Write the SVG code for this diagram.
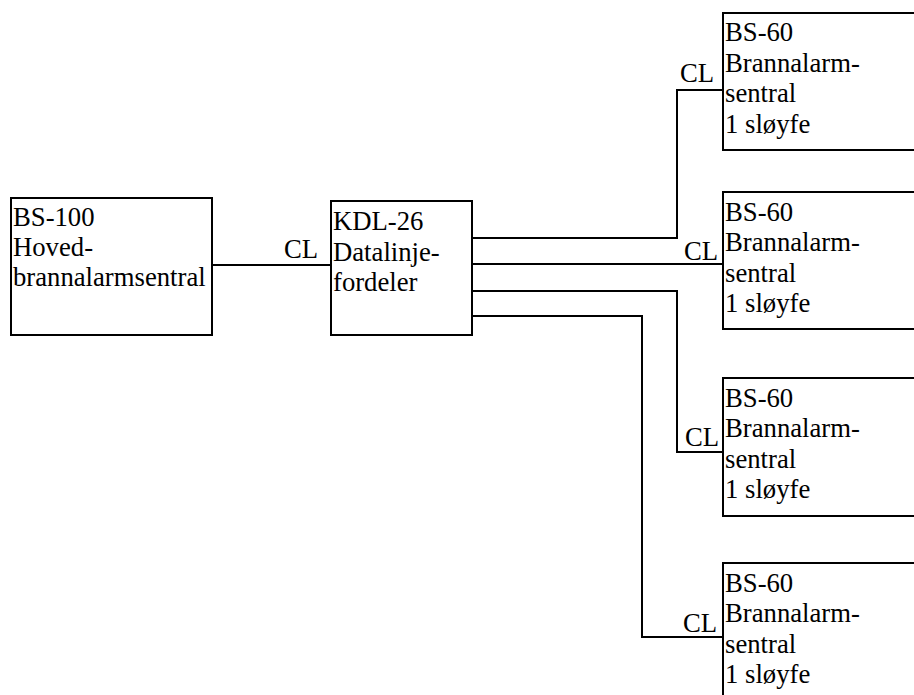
<svg xmlns="http://www.w3.org/2000/svg" width="914" height="695" viewBox="0 0 914 695">
<style>
rect{fill:#fff;stroke:#000;stroke-width:2}
path{fill:none;stroke:#000;stroke-width:2}
text{font-family:'Liberation Serif','Times New Roman',serif;font-size:26.7px;fill:#000}
.cl{text-anchor:end}
</style>
<rect x="0" y="0" width="914" height="695" style="stroke:none"/>
<g id="connectors">
<path d="M212 265H331"/>
<path d="M472 238H677V90H723"/>
<path d="M472 264H723"/>
<path d="M472 291H677V452H723"/>
<path d="M472 316H642V637H723"/>
<text class="cl" x="318" y="258">CL</text>
<text class="cl" x="714" y="82">CL</text>
<text class="cl" x="718" y="260">CL</text>
<text class="cl" x="719" y="446">CL</text>
<text class="cl" x="717" y="632">CL</text>
</g>
<g id="bs100">
<rect x="11" y="198" width="201" height="137"/>
<text x="13" y="226">BS-100</text>
<text x="13" y="256">Hoved-</text>
<text x="13" y="286">brannalarmsentral</text>
</g>
<g id="kdl26">
<rect x="331" y="201" width="141" height="134"/>
<text x="333" y="230">KDL-26</text>
<text x="333" y="261">Datalinje-</text>
<text x="333" y="291">fordeler</text>
</g>
<g id="bs60a">
<rect x="723" y="13" width="200" height="137"/>
<text x="725" y="41">BS-60</text>
<text x="725" y="72">Brannalarm-</text>
<text x="725" y="102">sentral</text>
<text x="725" y="133">1 sløyfe</text>
</g>
<g id="bs60b">
<rect x="723" y="192" width="200" height="137"/>
<text x="725" y="221">BS-60</text>
<text x="725" y="251">Brannalarm-</text>
<text x="725" y="282">sentral</text>
<text x="725" y="312">1 sløyfe</text>
</g>
<g id="bs60c">
<rect x="723" y="378" width="200" height="138"/>
<text x="725" y="407">BS-60</text>
<text x="725" y="437">Brannalarm-</text>
<text x="725" y="468">sentral</text>
<text x="725" y="498">1 sløyfe</text>
</g>
<g id="bs60d">
<rect x="723" y="563" width="200" height="150"/>
<text x="725" y="592">BS-60</text>
<text x="725" y="622">Brannalarm-</text>
<text x="725" y="653">sentral</text>
<text x="725" y="683">1 sløyfe</text>
</g>
</svg>
